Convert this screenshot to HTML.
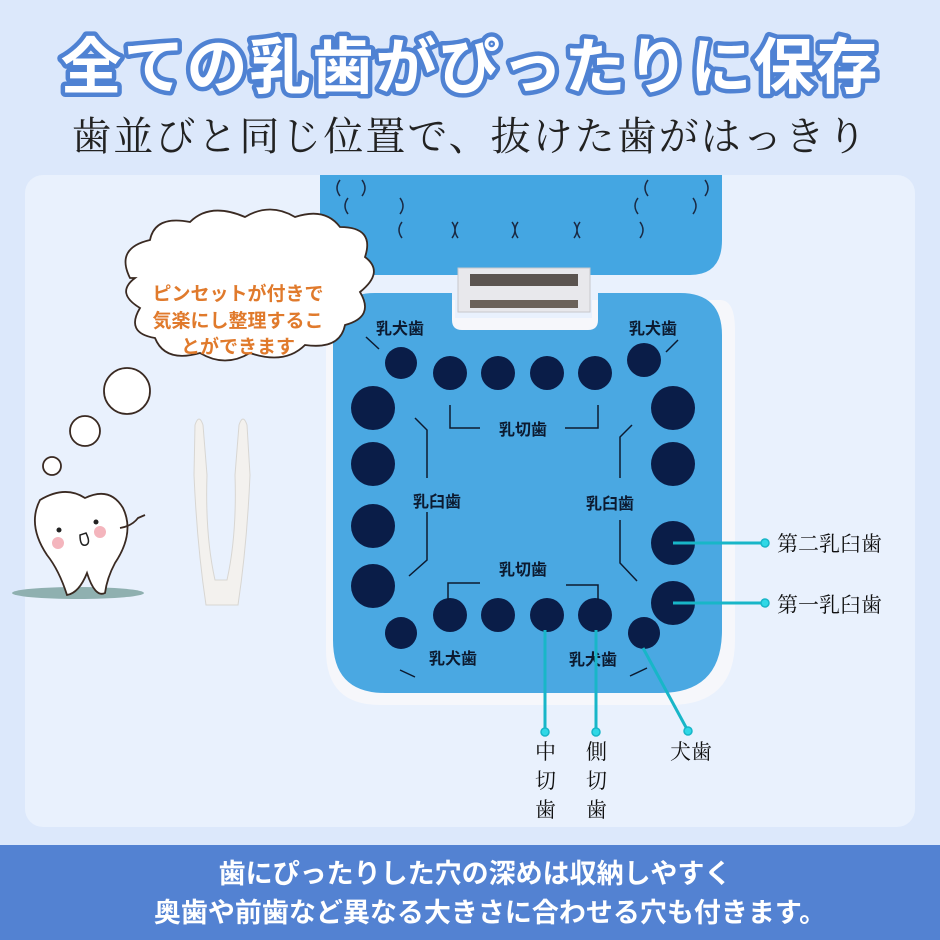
<!DOCTYPE html>
<html><head><meta charset="utf-8"><style>
html,body{margin:0;padding:0;}
body{width:940px;height:940px;overflow:hidden;background:#dce8fb;}
svg{display:block;}
.j{font-family:"Liberation Sans","Noto Sans CJK JP",sans-serif;}
.s{font-family:"Liberation Serif","Noto Serif CJK SC",serif;}
</style></head><body>
<svg width="940" height="940" viewBox="0 0 940 940" xmlns="http://www.w3.org/2000/svg">
<rect width="940" height="940" fill="#dce8fb"/>
<rect x="25" y="175" width="890" height="652" rx="18" fill="#e9f1fd"/>
<text x="470" y="88" text-anchor="middle" class="j" font-size="61" font-weight="bold" fill="#fff" stroke="#4f82d3" stroke-width="9" stroke-linejoin="round" paint-order="stroke" letter-spacing="2">全ての乳歯がぴったりに保存</text>
<text x="470" y="150" text-anchor="middle" class="s" font-size="40" fill="#222" letter-spacing="2">歯並びと同じ位置で、抜けた歯がはっきり</text>

<path d="M320 175 H722 V240 Q722 275 690 275 H352 Q320 275 320 240 Z" fill="#44a6e2"/>
<g fill="none" stroke="#1a2a44" stroke-width="1.5">
<path d="M340 180 q-6 8 0 16 M362 180 q6 8 0 16 M348 198 q-6 8 0 16 M400 198 q6 8 0 16 M402 222 q-6 8 0 16 M452 222 q6 8 0 16 M458 222 q-6 8 0 16 M512 222 q6 8 0 16 M518 222 q-6 8 0 16 M574 222 q6 8 0 16 M580 222 q-6 8 0 16 M640 222 q6 8 0 16 M638 198 q-6 8 0 16 M693 198 q6 8 0 16 M648 180 q-6 8 0 16 M705 180 q6 8 0 16"/>
</g>
<rect x="458" y="268" width="132" height="44" fill="#e8e8ec" stroke="#c8c8cc"/>
<rect x="470" y="274" width="108" height="12" fill="#5b5450"/>
<rect x="470" y="300" width="108" height="8" fill="#6b625a"/>
<path d="M326 300 H455 V318 H592 V300 H720 Q735 300 735 330 V640 Q735 705 670 705 H380 Q326 705 326 650 Z" fill="#f6f7fb"/>
<path d="M375 293 H452 V320 Q452 330 462 330 H588 Q598 330 598 320 V293 H680 Q722 293 722 335 V630 Q722 693 660 693 H385 Q333 693 333 640 V335 Q333 293 375 293 Z" fill="#4aa8e2"/>
<g fill="#0a1d48">
<circle cx="401" cy="363" r="16"/><circle cx="450" cy="373" r="17"/><circle cx="498" cy="373" r="17"/><circle cx="547" cy="373" r="17"/><circle cx="595" cy="373" r="17"/><circle cx="644" cy="360" r="17"/>
<circle cx="373" cy="408" r="22"/><circle cx="373" cy="464" r="22"/><circle cx="373" cy="526" r="22"/><circle cx="373" cy="586" r="22"/>
<circle cx="673" cy="408" r="22"/><circle cx="673" cy="464" r="22"/><circle cx="673" cy="543" r="22"/><circle cx="673" cy="603" r="22"/>
<circle cx="401" cy="633" r="16"/><circle cx="450" cy="615" r="17"/><circle cx="498" cy="615" r="17"/><circle cx="547" cy="615" r="17"/><circle cx="595" cy="615" r="17"/><circle cx="644" cy="633" r="16"/>
</g>
<g fill="none" stroke="#0c1a30" stroke-width="1.5">
<path d="M366 337 l13 12 M678 340 l-12 12"/>
<path d="M450 405 V428 H480 M565 428 H598 V405"/>
<path d="M415 418 l12 12 V478 M427 512 V560 l-18 16"/>
<path d="M632 425 l-12 12 V478 M620 520 V563 l17 18"/>
<path d="M448 600 V583 H480 M566 585 H598 V600"/>
<path d="M400 670 l15 7 M630 676 l17 -8"/>
</g>
<g class="j" font-size="16" font-weight="bold" fill="#0c1a30" text-anchor="middle">
<text x="400" y="334">乳犬歯</text><text x="653" y="334">乳犬歯</text>
<text x="523" y="435">乳切歯</text>
<text x="437" y="507">乳臼歯</text><text x="610" y="509">乳臼歯</text>
<text x="523" y="575">乳切歯</text>
<text x="453" y="664">乳犬歯</text><text x="593" y="665">乳犬歯</text>
</g>
<g stroke="#18b6c8" stroke-width="3" fill="#2fd8e6">
<line x1="673" y1="543" x2="765" y2="543"/><line x1="673" y1="603" x2="765" y2="603"/>
<line x1="545" y1="630" x2="545" y2="732"/><line x1="596" y1="630" x2="596" y2="732"/>
<line x1="643" y1="648" x2="688" y2="731"/>
<circle cx="765" cy="543" r="4" stroke-width="1.5"/><circle cx="765" cy="603" r="4" stroke-width="1.5"/>
<circle cx="545" cy="732" r="4" stroke-width="1.5"/><circle cx="596" cy="732" r="4" stroke-width="1.5"/><circle cx="688" cy="731" r="4" stroke-width="1.5"/>
</g>
<g class="s" font-size="21" fill="#111">
<text x="777" y="551">第二乳臼歯</text><text x="777" y="612">第一乳臼歯</text>
<text x="535" y="759">中</text><text x="535" y="788">切</text><text x="535" y="817">歯</text>
<text x="586" y="759">側</text><text x="586" y="788">切</text><text x="586" y="817">歯</text>
<text x="670" y="759">犬歯</text>
</g>

<path d="M130 278 q-15 -30 20 -38 q5 -25 40 -18 q20 -20 55 -5 q25 -15 50 0 q30 -10 45 10 q35 0 25 30 q20 15 -5 35 q15 25 -15 33 q-5 25 -40 20 q-20 20 -55 8 q-25 15 -50 0 q-35 10 -45 -15 q-30 -5 -15 -30 q-25 -15 -5 -30 z" fill="#fff" stroke="#3a2a22" stroke-width="1.8"/>
<g class="j" font-size="19" font-weight="bold" fill="#e07a2c" text-anchor="middle">
<text x="238" y="300">ピンセットが付きで</text>
<text x="238" y="327">気楽にし整理するこ</text>
<text x="238" y="353">とができます</text>
</g>
<circle cx="127" cy="391" r="23" fill="#fff" stroke="#3a2a22" stroke-width="1.8"/>
<circle cx="85" cy="431" r="15" fill="#fff" stroke="#3a2a22" stroke-width="1.8"/>
<circle cx="52" cy="466" r="9" fill="#fff" stroke="#3a2a22" stroke-width="1.8"/>

<ellipse cx="78" cy="593" rx="66" ry="6" fill="#8fb0b0"/>
<path d="M40 500 q25 -15 45 -2 q25 -12 38 10 q12 25 -8 55 q-8 15 -10 30 q-10 5 -18 -20 q-8 20 -20 22 q-8 -25 -20 -40 q-20 -30 -7 -55 z" fill="#fff" stroke="#3a2a22" stroke-width="1.8"/>
<circle cx="59" cy="530" r="2.5" fill="#222"/><circle cx="96" cy="522" r="2.5" fill="#222"/>
<circle cx="58" cy="543" r="6" fill="#f4b5bd"/><circle cx="100" cy="532" r="6" fill="#f4b5bd"/>
<path d="M80 535 q0 12 6 10 q5 -2 0 -12 z" fill="#fff" stroke="#222" stroke-width="1.5"/>
<path d="M120 528 q12 -2 18 -10 l7 -3" fill="none" stroke="#3a2a22" stroke-width="1.8"/>

<path d="M195 425 q4 -12 8 0 l4 50 q-2 60 8 105 h12 q10 -45 8 -105 l4 -50 q4 -12 8 0 l3 50 q-3 70 -12 130 h-32 q-9 -60 -12 -130 z" fill="#f3f1ee" stroke="#d8d6d2"/>

<rect x="0" y="845" width="940" height="95" fill="#5382d2"/>
<g class="j" font-size="27" font-weight="bold" fill="#fff" text-anchor="middle">
<text x="475" y="883">歯にぴったりした穴の深めは収納しやすく</text>
<text x="490" y="922">奥歯や前歯など異なる大きさに合わせる穴も付きます。</text>
</g>
</svg>
</body></html>
